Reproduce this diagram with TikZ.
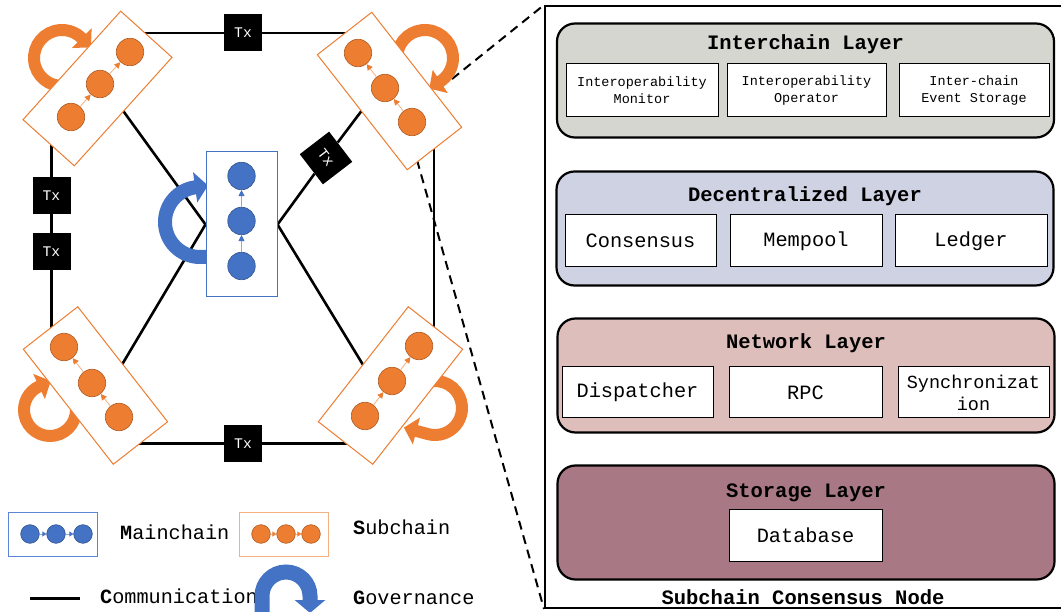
\documentclass[tikz,border=0pt]{standalone}
\usepackage{fontspec}
\setmonofont{Liberation Mono}
\usetikzlibrary{arrows.meta,calc}

\definecolor{obl}{HTML}{4472C4}
\definecolor{oblD}{HTML}{2F528F}
\definecolor{oblL}{HTML}{8FAADC}
\definecolor{oblM}{HTML}{5B86D6}
\definecolor{oor}{HTML}{ED7D31}
\definecolor{oorD}{HTML}{AE5A21}
\definecolor{oorL}{HTML}{F4B183}
\definecolor{layA}{HTML}{D6D6D0}
\definecolor{layB}{HTML}{CFD2E3}
\definecolor{layC}{HTML}{DDBEBB}
\definecolor{layD}{HTML}{A87985}

\pgfdeclarelayer{bg}
\pgfsetlayers{bg,main}

\tikzset{
  comm/.style={line width=2.6pt, draw=black},
  txbox/.style={fill=black, text=white, minimum width=38pt, minimum height=37pt, inner sep=0pt,
    font=\fontsize{14.7}{16}\selectfont\ttfamily},
  subbox/.style={draw=oor, line width=1pt, fill=white, minimum width=146pt, minimum height=69pt, inner sep=0pt},
  mainbox/.style={draw=obl, line width=1pt, fill=white, minimum width=71pt, minimum height=145pt, inner sep=0pt},
  obead/.style={circle, fill=oor, draw=oorD, line width=0.6pt, minimum size=27.5pt, inner sep=0pt},
  bbead/.style={circle, fill=obl, draw=oblD, line width=0.6pt, minimum size=27.5pt, inner sep=0pt},
  obeadS/.style={obead, minimum size=18.6pt},
  bbeadS/.style={bbead, minimum size=18.6pt},
  olink/.style={draw=oorL, line width=0.8pt, -{Triangle[length=6pt,width=6pt,color=oor]}},
  blink/.style={draw=oblL, line width=0.8pt, -{Triangle[length=6pt,width=6pt,color=obl]}},
  olinkS/.style={draw=oorL, line width=0.8pt, -{Triangle[length=4pt,width=5pt,color=oor]}},
  blinkS/.style={draw=oblL, line width=0.8pt, -{Triangle[length=4pt,width=5pt,color=obl]}},
  ogov/.style={draw=oor, line width=12pt, -{Triangle[length=13pt,width=27pt]}},
  bgov/.style={draw=obl, line width=14pt, -{Triangle[length=13pt,width=30pt]}},
  layer/.style={draw=black, line width=2.2pt, rounded corners=18pt, minimum width=497pt,
    minimum height=114pt, inner sep=0pt},
  cell/.style={draw=black, line width=1pt, fill=white, inner sep=0pt, align=center,
    font=\fontsize{20.3}{22}\selectfont\ttfamily},
  smallcell/.style={cell, font=\fontsize{13.5}{17}\selectfont\ttfamily},
  ltitle/.style={anchor=base, inner sep=0pt, font=\fontsize{20.5}{24}\selectfont\ttfamily\bfseries},
  legtext/.style={anchor=base west, inner sep=0pt, font=\fontsize{20.2}{24}\selectfont\ttfamily},
  linkdash/.style={line width=2pt, dash pattern=on 9pt off 6pt},
}

\begin{document}
\begin{tikzpicture}[x=1pt,y=-1pt]
\useasboundingbox (0,0) rectangle (1061,612);
\clip (0,0) rectangle (1061,612);

% ---------- mainchain in the centre ----------
\node[mainbox] (main) at (241.5,224.5) {};
\node[bbead] (m1) at (241.5,266) {};
\node[bbead] (m2) at (241.5,221) {};
\node[bbead] (m3) at (241.5,176) {};
\draw[blink] (m1) -- (m2);
\draw[blink] (m2) -- (m3);

% ---------- four subchains ----------
\node[subbox, rotate=48] (nw) at (97.5,88.5) {};
\node[obead] (nw1) at (71,117) {};
\node[obead] (nw2) at (100,84) {};
\node[obead] (nw3) at (130,52) {};
\draw[olink] (nw1) -- (nw2);
\draw[olink] (nw2) -- (nw3);

\node[subbox, rotate=-52] (ne) at (389.5,91) {};
\node[obead] (ne1) at (412,122) {};
\node[obead] (ne2) at (385,88) {};
\node[obead] (ne3) at (358,53) {};
\draw[olink] (ne1) -- (ne2);
\draw[olink] (ne2) -- (ne3);

\node[subbox, rotate=-52] (sw) at (95.5,385.5) {};
\node[obead] (sw1) at (119,417) {};
\node[obead] (sw2) at (92,383) {};
\node[obead] (sw3) at (64,347) {};
\draw[olink] (sw1) -- (sw2);
\draw[olink] (sw2) -- (sw3);

\node[subbox, rotate=52] (se) at (390.5,385.5) {};
\node[obead] (se1) at (365,416) {};
\node[obead] (se2) at (392,381) {};
\node[obead] (se3) at (419,346) {};
\draw[olink] (se1) -- (se2);
\draw[olink] (se2) -- (se3);

% ---------- transactions ----------
\node[txbox] (txTop) at (243,33) {Tx};
\node[txbox] (txL1) at (51.5,195.5) {Tx};
\node[txbox] (txL2) at (51.5,251.5) {Tx};
\node[txbox] (txBot) at (243,443.5) {Tx};
\node[txbox, rotate=-52.5] (txD) at (326,158) {Tx};

% ---------- line ends inside the subchain boxes ----------
\coordinate (nwA) at (135,33);   \coordinate (neA) at (355,33);
\coordinate (nwB) at (51.5,135); \coordinate (swB) at (51.5,338);
\coordinate (swC) at (130,443.5);\coordinate (seC) at (355,443.5);
\coordinate (neD) at (434,140);  \coordinate (seD) at (434,335);
\coordinate (nwE) at (116,101);  \coordinate (swE) at (117,373);
\coordinate (neE) at (369,101);  \coordinate (seE) at (368,373);
\coordinate (dsA) at (452,79);   \coordinate (dsB) at (417,160);

% ---------- node architecture panel ----------
\node[draw, line width=2pt, minimum width=540pt, minimum height=602pt, inner sep=0pt] (frame) at (815,307) {};

\node[layer, fill=layA] (inter) at (805.5,80.5) {};
\node[ltitle] (interT) at (805.5,49.5) {Interchain Layer};
\node[smallcell, minimum width=152pt, minimum height=53pt] (iMon) at (642,90.5) {Interoperability\\Monitor};
\node[smallcell, minimum width=159pt, minimum height=53pt] (iOp) at (806.5,90.5) {Interoperability\\Operator};
\node[smallcell, minimum width=150pt, minimum height=53pt] (iEv) at (974,90.5) {Inter-chain\\Event Storage};

\node[layer, fill=layB] (dec) at (805,228.5) {};
\node[ltitle] (decT) at (805,202) {Decentralized Layer};
\node[cell, minimum width=151pt, minimum height=52pt] (cons) at (640.5,241) {Consensus};
\node[cell, minimum width=152pt, minimum height=52pt] (mem) at (806,241) {Mempool};
\node[cell, minimum width=152pt, minimum height=52pt] (led) at (971,241) {Ledger};

\node[layer, fill=layC] (net) at (806,375.5) {};
\node[ltitle] (netT) at (806,349) {Network Layer};
\node[cell, minimum width=151pt, minimum height=51pt] (disp) at (637.5,392.5) {Dispatcher};
\node[cell, minimum width=153pt, minimum height=51pt] (rpc) at (805.5,392.5) {RPC};
\node[cell, minimum width=151pt, minimum height=51pt, font=\fontsize{18.5}{22}\selectfont\ttfamily] (sync) at (973.5,392.5) {Synchronizat\\ion};

\node[layer, fill=layD] (sto) at (806,522.5) {};
\node[ltitle] (stoT) at (806,497) {Storage Layer};
\node[cell, minimum width=153pt, minimum height=52pt] (db) at (805.5,535) {Database};

\node[ltitle] (cap) at (803,604) {Subchain Consensus Node};

% ---------- links, governance (behind the boxes) ----------
\begin{pgfonlayer}{bg}
\draw[comm] (nwA) -- (txTop) -- (neA);
\draw[comm] (nwB) -- (txL1) -- (txL2) -- (swB);
\draw[comm] (swC) -- (txBot) -- (seC);
\draw[comm] (neD) -- (seD);
\draw[comm] (main.west) -- (nwE);
\draw[comm] (main.west) -- (swE);
\draw[comm] (main.east) -- (txD) -- (neE);
\draw[comm] (main.east) -- (seE);

\draw[linkdash] (dsA) -- (frame.north west);
\draw[linkdash] (dsB) -- (frame.south west);

\draw[bgov] (212,257) -- (200,257) arc[start angle=90, end angle=262, radius=35] -- ++(352:13);
\draw[ogov] ($(62,58)+(85:28)$) arc[start angle=85, end angle=315, radius=28] -- ++(45:13);
\draw[ogov] ($(425,58)+(185:28)$) arc[start angle=185, end angle=417, radius=28] -- ++(147:13);
\draw[ogov] ($(50,410)+(-10:26)$) arc[start angle=-10, end angle=245, radius=26] -- ++(335:13);
\draw[ogov] ($(435,408)+(-95:27)$) arc[start angle=-95, end angle=105, radius=27] -- ++(195:25);
\end{pgfonlayer}

% ---------- legend ----------
\node[draw=oblM, line width=1pt, minimum width=89pt, minimum height=44pt, inner sep=0pt] (lgM) at (52.5,534) {};
\node[bbeadS] (lm1) at (30,534) {};
\node[bbeadS] (lm2) at (56,534) {};
\node[bbeadS] (lm3) at (83,534) {};
\draw[blinkS] (lm1) -- (lm2);
\draw[blinkS] (lm2) -- (lm3);
\node[legtext] (lgMt) at (120,539) {\textbf{M}ainchain};

\node[draw=oorL, line width=1pt, minimum width=89pt, minimum height=44pt, inner sep=0pt] (lgS) at (283.5,534) {};
\node[obeadS] (ls1) at (261,534) {};
\node[obeadS] (ls2) at (286,534) {};
\node[obeadS] (ls3) at (311,534) {};
\draw[olinkS] (ls1) -- (ls2);
\draw[olinkS] (ls2) -- (ls3);
\node[legtext] (lgSt) at (353,534) {\textbf{S}ubchain};

\coordinate (cmA) at (30,598);
\coordinate (cmB) at (80,598);
\draw[line width=3pt] (cmA) -- (cmB);
\node[legtext] (lgCt) at (100,603) {\textbf{C}ommunication};
\draw[bgov, line width=15pt] (262,625) -- (262,596) arc[start angle=180, end angle=360, radius=24] -- ++(90:17);
\node[legtext] (lgGt) at (353,604) {\textbf{G}overnance};
\end{tikzpicture}
\end{document}
